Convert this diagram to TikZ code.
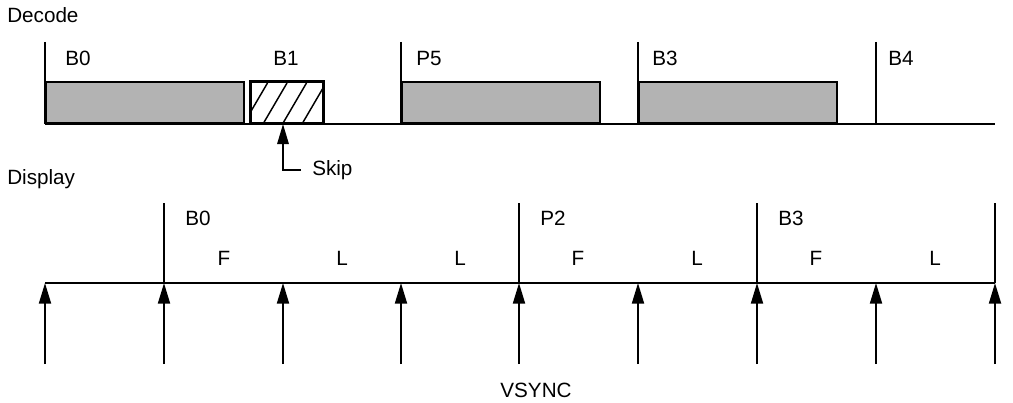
\documentclass[tikz,border=0pt]{standalone}
\usepackage{fontspec}
\setmainfont{Liberation Sans}
\usetikzlibrary{arrows.meta}
\definecolor{boxgray}{RGB}{179,179,179}
\begin{document}
\begin{tikzpicture}[x=0.75pt,y=-0.75pt,
  line/.style={line width=1.5pt},
  lbl/.style={font=\fontsize{15.5}{18}\selectfont, inner sep=0pt},
  framebox/.style={draw, line width=1.5pt, fill=boxgray},
  skipbox/.style={draw, line width=1.5pt, fill=white},
  vs/.style={line width=1.5pt, -{Triangle[length=15.5pt,width=9pt]}}]
\useasboundingbox (0,0) rectangle (1013,403);

% ---------- Decode ----------
\node[lbl, anchor=base west] (decode) at (7,23) {Decode};
\coordinate (ds) at (45,124);
\coordinate (de) at (995,124);
\draw[line] (ds) -- (de);

\node[framebox, minimum width=148.5pt, minimum height=30.75pt, anchor=south west, inner sep=0pt] (bxB0) at (45,124) {};
\node[skipbox, minimum width=54pt, minimum height=30.75pt, anchor=south west, inner sep=0pt] (bxB1) at (250,124) {};
\begin{scope}
  \clip (bxB1.south west) rectangle (bxB1.north east);
  \foreach \k in {0,...,5}
    \draw[line width=1.1pt] (224+\k*19.5,124) -- (248+\k*19.5,83);
\end{scope}
\draw[line width=1.5pt] (bxB1.south west) rectangle (bxB1.north east);
\node[framebox, minimum width=148.5pt, minimum height=30.75pt, anchor=south west, inner sep=0pt] (bxP5) at (401,124) {};
\node[framebox, minimum width=148.5pt, minimum height=30.75pt, anchor=south west, inner sep=0pt] (bxB3) at (638,124) {};

\coordinate (t0) at (45,42);
\coordinate (t1) at (401,42);
\coordinate (t2) at (638,42);
\coordinate (t3) at (876,42);
\coordinate (b0) at (45,124);
\coordinate (b1) at (401,124);
\coordinate (b2) at (638,124);
\coordinate (b3) at (876,124);
\draw[line] (t0) -- (b0);
\draw[line] (t1) -- (b1);
\draw[line] (t2) -- (b2);
\draw[line] (t3) -- (b3);

\node[lbl, anchor=base west] (lB0) at (65,65) {B0};
\node[lbl, anchor=base west] (lB1) at (273,65) {B1};
\node[lbl, anchor=base west] (lP5) at (416,65) {P5};
\node[lbl, anchor=base west] (lB3) at (652,65) {B3};
\node[lbl, anchor=base west] (lB4) at (888,65) {B4};

% Skip
\node[lbl, anchor=base west] (skip) at (312,175) {Skip};
\coordinate (skipend) at (301,170);
\coordinate (skipel) at (283,170);
\coordinate (skiptip) at (283,124);
\draw[line width=1.5pt, -{Triangle[length=15pt,width=8.5pt]}] (skipend) -- (skipel) -- (skiptip);

% ---------- Display ----------
\node[lbl, anchor=base west] (display) at (7,184) {Display};
\coordinate (vs) at (45,283);
\coordinate (ve) at (995,283);
\draw[line] (vs) -- (ve);

\foreach \x [count=\i] in {164,519,757,995}{
  \coordinate (dt\i) at (\x,203);
  \coordinate (db\i) at (\x,283);
  \draw[line] (dt\i) -- (db\i);
}

\foreach \x [count=\i] in {45,164,283,401,519,638,757,876,995}{
  \coordinate (vb\i) at (\x,364);
  \coordinate (vt\i) at (\x,283);
  \draw[vs] (vb\i) -- (vt\i);
}

\node[lbl, anchor=base west] (dB0) at (185,225) {B0};
\node[lbl, anchor=base west] (dP2) at (540,225) {P2};
\node[lbl, anchor=base west] (dB3) at (778,225) {B3};

\foreach \x/\t [count=\i] in {224/F,342/L,460/L,578/F,697/L,816/F,935/L}
  \node[lbl, anchor=base] (fl\i) at (\x,265) {\t};

\node[lbl, anchor=base] (vsync) at (536,397) {VSYNC};
\end{tikzpicture}
\end{document}
